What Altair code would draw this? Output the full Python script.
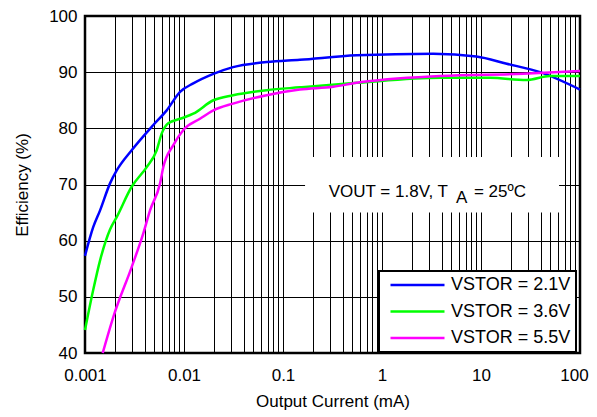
import altair as alt
import pandas as pd

FONT = "Liberation Sans"

series_names = ["VSTOR = 2.1V", "VSTOR = 3.6V", "VSTOR = 5.5V"]
series_colors = ["#0000FF", "#00FF00", "#FF00FF"]

# Output current (mA) and efficiency (%)
blue_current = [0.001, 0.00121, 0.00142, 0.00179, 0.00209, 0.00296, 0.0049, 0.00669,
                0.00912, 0.0124, 0.0198, 0.0313, 0.0684, 0.148, 0.555, 3.3, 9.0,
                18.2, 39.5, 100]
blue_eff = [57.3, 62.4, 65.4, 70.2, 72.5, 76.1, 80.6, 83.2,
            86.5, 88.0, 89.7, 90.9, 91.8, 92.2, 93.0, 93.3, 92.8,
            91.5, 90.0, 86.9]

green_current = [0.001, 0.00121, 0.00142, 0.00179, 0.00209, 0.00296, 0.0042, 0.0053,
                 0.00596, 0.00694, 0.00912, 0.0124, 0.0198, 0.0313, 0.0684, 0.148,
                 0.555, 3.85, 12.3, 28.9, 49.8, 100]
green_eff = [44.1, 51.2, 56.5, 62.0, 64.2, 69.6, 73.1, 76.1,
             79.1, 80.9, 81.7, 82.6, 85.0, 85.9, 86.8, 87.3,
             88.1, 89.0, 89.0, 88.6, 89.3, 89.3]

magenta_current = [0.00151, 0.00193, 0.00296, 0.00388, 0.00454, 0.00573, 0.00618,
                   0.0078, 0.00985, 0.0145, 0.0198, 0.0313, 0.0684, 0.148, 0.322,
                   0.555, 3.85, 26.7, 100]
magenta_eff = [40.0, 46.4, 55.3, 61.3, 65.4, 70.2, 73.1,
               77.0, 79.7, 81.7, 83.2, 84.4, 85.9, 86.9, 87.4,
               88.1, 89.3, 89.7, 90.2]

x_decades = [0.001, 0.01, 0.1, 1, 10]
x_multipliers = [1, 2, 3, 4, 5, 6, 7, 8, 9]
x_grid = [round(d * m, 6) for d in x_decades for m in x_multipliers] + [100]
y_ticks = [40, 50, 60, 70, 80, 90, 100]

note_parts = ["VOUT = 1.8V, T", "A", "= 25ºC"]
note_anchor = {"x": [5.09], "y": [67.8]}
note_box = {"x": [0.167], "x2": [61.4], "y": [65.0], "y2": [74.9]}

rows = []
for name, xs, ys in zip(series_names,
                        [blue_current, green_current, magenta_current],
                        [blue_eff, green_eff, magenta_eff]):
    for xv, yv in zip(xs, ys):
        rows.append({"current": xv, "eff": yv, "series": name})
df = pd.DataFrame(rows)

x_scale = alt.Scale(type="log", domain=[0.001, 100], nice=False)
y_scale = alt.Scale(domain=[40, 100], nice=False, zero=False)

lines = alt.Chart(df).mark_line(strokeWidth=2.5, interpolate="monotone").encode(
    x=alt.X("current:Q", scale=x_scale,
            axis=alt.Axis(values=x_grid, grid=True, domain=False, ticks=False,
                          labelExpr="abs(log(datum.value)/LN10 - round(log(datum.value)/LN10)) < 0.001 ? format(datum.value, '~g') : ''",
                          labelFlush=False, labelOverlap=False, labelPadding=14,
                          labelOffset={"condition": {"test": "datum.value >= 100", "value": -6}, "value": 0},
                          title="Output Current (mA)", titlePadding=10)),
    y=alt.Y("eff:Q", scale=y_scale,
            axis=alt.Axis(values=y_ticks, grid=True, domain=False, ticks=False,
                          labelPadding=8, title="Efficiency (%)", titlePadding=17)),
    color=alt.Color("series:N",
                    scale=alt.Scale(domain=series_names, range=series_colors),
                    legend=alt.Legend(orient="none", legendX=294, legendY=255,
                                      title=None, fillColor="white", strokeColor="black",
                                      symbolType="stroke", symbolSize=2916,
                                      symbolStrokeWidth=2.5, clipHeight=18,
                                      rowPadding=8.5, padding=5, symbolOffset=5,
                                      labelOffset=5,
                                      labelExpr="datum.label + '\u00a0\u00a0'",
                                      labelFontSize=18, labelFont=FONT,
                                      labelColor="black")),
)

box = alt.Chart(pd.DataFrame(note_box)).mark_rect(color="white").encode(
    x=alt.X("x:Q", scale=x_scale), x2="x2:Q",
    y=alt.Y("y:Q", scale=y_scale), y2="y2:Q")

anchor_df = pd.DataFrame(note_anchor)
def note_text(part, align, dx, dy=0):
    return alt.Chart(anchor_df).mark_text(
        text=part, align=align, baseline="alphabetic", dx=dx, dy=dy,
        fontSize=17, font=FONT, color="black").encode(
        x=alt.X("x:Q", scale=x_scale), y=alt.Y("y:Q", scale=y_scale))

t1 = note_text(note_parts[0], "right", -4)
t2 = note_text(note_parts[1], "left", 4, 6.5)
t3 = note_text(note_parts[2], "left", 22)

chart = alt.layer(box, t1, t2, t3, lines).properties(
    width=495, height=337,
    autosize=alt.AutoSizeParams(type="none"),
    padding={"left": 77, "top": 8, "right": 9, "bottom": 62},
).configure(font=FONT).configure_view(
    stroke="black", strokeWidth=2.5
).configure_axis(
    gridColor="black", gridWidth=1, gridOpacity=1,
    labelFontSize=17, labelColor="black", labelFont=FONT,
    titleFontSize=17, titleFontWeight="normal", titleColor="black", titleFont=FONT,
).configure_legend(strokeWidth=2)

chart.save("out.html", embed_options={"renderer": "svg", "actions": False})
